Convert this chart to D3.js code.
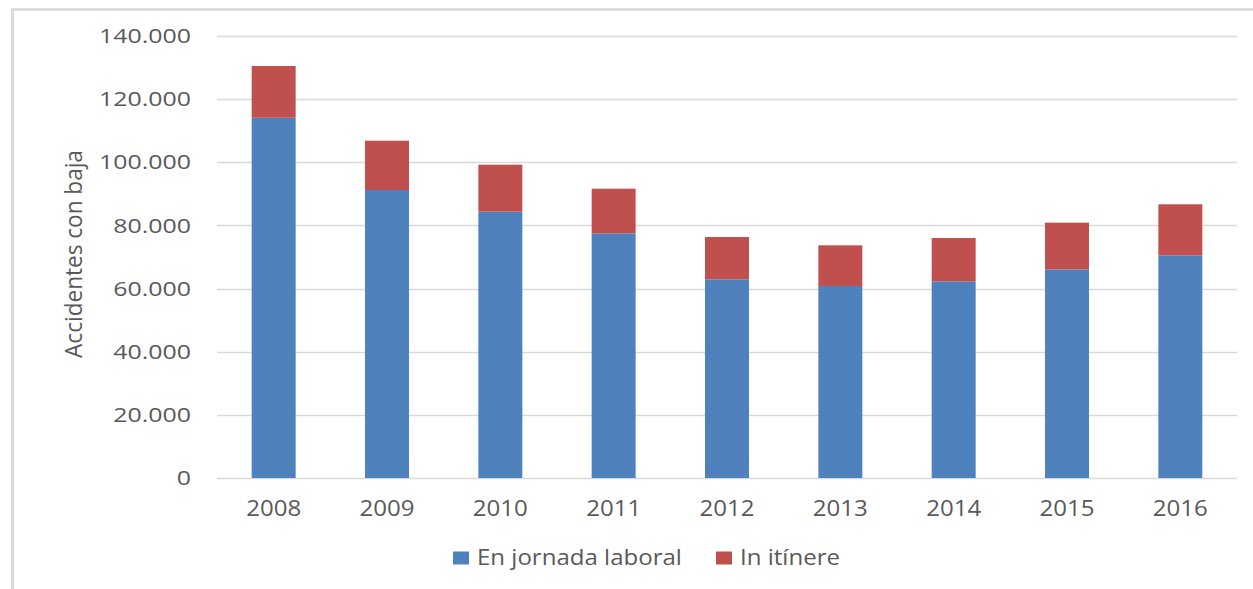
<!DOCTYPE html>
<html>
<head>
<meta charset="utf-8">
<script src="https://cdn.jsdelivr.net/npm/d3@7"></script>
<style>
  html, body { margin: 0; padding: 0; background: #fff; }
  svg { display: block; }
  text { font-family: "Open Sans", sans-serif; fill: #595959; }
</style>
</head>
<body>
<svg id="chart" width="1253" height="589"></svg>
<script>
const years = ["2008", "2009", "2010", "2011", "2012", "2013", "2014", "2015", "2016"];
const jornadaLaboral = [114100, 91220, 84350, 77500, 62930, 60810, 62290, 66100, 70530];
const inItinere = [16400, 15620, 14890, 14140, 13400, 12890, 13730, 14770, 16160];
const seriesNames = ["En jornada laboral", "In itínere"];
const seriesColors = ["#4F81BD", "#C0504D"];
const yTicks = [0, 20000, 40000, 60000, 80000, 100000, 120000, 140000];
const yTitle = "Accidentes con baja";

const svg = d3.select("#chart");
const W = 1253, H = 589;
const plot = { left: 217, right: 1237, top: 36, bottom: 478 };

// outer frame (partially cropped in reference)
svg.append("line").attr("x1", 12).attr("x2", W).attr("y1", 9.5).attr("y2", 9.5)
  .attr("stroke", "#D9D9D9").attr("stroke-width", 2.5);
svg.append("line").attr("x1", 12.5).attr("x2", 12.5).attr("y1", 8.5).attr("y2", H)
  .attr("stroke", "#D9D9D9").attr("stroke-width", 3);

const x = d3.scaleBand().domain(years).range([plot.left, plot.right])
  .paddingInner(0.612).paddingOuter(0.306);
const y = d3.scaleLinear().domain([0, 140000]).range([plot.bottom, plot.top]);

const fmt = v => d3.format(",")(v).replace(/,/g, ".");

// gridlines
svg.append("g").selectAll("line").data(yTicks).join("line")
  .attr("x1", plot.left).attr("x2", plot.right)
  .attr("y1", d => Math.round(y(d)) + 0.5).attr("y2", d => Math.round(y(d)) + 0.5)
  .attr("stroke", "#D9D9D9").attr("stroke-width", 1.3);

// stacked data
const rows = years.map((yr, i) => ({ year: yr, jornada: jornadaLaboral[i], itinere: inItinere[i] }));
const stack = d3.stack().keys(["jornada", "itinere"])(rows);

svg.append("g").selectAll("g").data(stack).join("g")
  .attr("fill", (d, i) => seriesColors[i])
  .selectAll("rect").data(d => d).join("rect")
  .attr("x", d => x(d.data.year))
  .attr("width", x.bandwidth())
  .attr("y", d => y(d[1]))
  .attr("height", d => y(d[0]) - y(d[1]));

// helper: stretch text horizontally to a target width
function stretchTo(textSel, target) {
  const len = textSel.node().getComputedTextLength();
  return target / len;
}

// y tick labels
const yG = svg.append("g");
const probe = yG.append("text").attr("font-size", 20).text(fmt(140000));
const kY = stretchTo(probe, 92);
probe.remove();
yTicks.forEach(t => {
  yG.append("g").attr("transform", `translate(191,${y(t)}) scale(${kY},1)`)
    .append("text").attr("font-size", 20).attr("text-anchor", "end")
    .attr("dy", "0.36em").text(fmt(t));
});

// x tick labels
const xG = svg.append("g");
const probeX = xG.append("text").attr("font-size", 21).text("2014");
const kX = stretchTo(probeX, 55);
probeX.remove();
years.forEach(yr => {
  xG.append("g").attr("transform", `translate(${x(yr) + x.bandwidth() / 2},516) scale(${kX},1)`)
    .append("text").attr("font-size", 21).attr("text-anchor", "middle").text(yr);
});

// y axis title
const tG = svg.append("g").attr("transform", "translate(82,254) rotate(-90)");
const tt = tG.append("text").attr("font-size", 23).attr("text-anchor", "middle").text(yTitle);
const kT = stretchTo(tt, 208);
tt.attr("transform", `scale(${kT},1)`);

// legend
const lg = svg.append("g");
const probeL = lg.append("text").attr("font-size", 21).text(seriesNames[0]);
const kL = stretchTo(probeL, 205);
probeL.remove();
const legendPos = [{ sq: 453, tx: 477 }, { sq: 716, tx: 740 }];
seriesNames.forEach((name, i) => {
  lg.append("rect").attr("x", legendPos[i].sq).attr("y", 551.5)
    .attr("width", 16).attr("height", 13).attr("fill", seriesColors[i]);
  lg.append("g").attr("transform", `translate(${legendPos[i].tx},565) scale(${kL},1)`)
    .append("text").attr("font-size", 21).text(name);
});
</script>
</body>
</html>
